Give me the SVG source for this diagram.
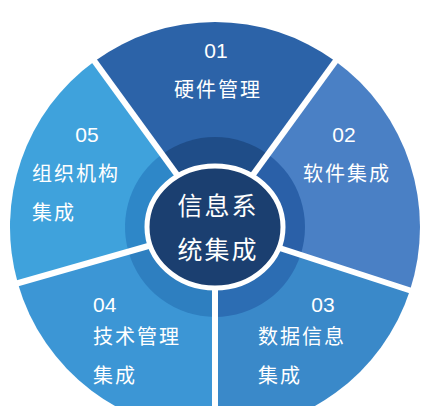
<svg xmlns="http://www.w3.org/2000/svg" width="429" height="406" viewBox="0 0 429 406">
<style>
.num{font-family:"Liberation Sans","Noto Sans CJK SC",sans-serif;font-size:21px;fill:#fff}
.lbl{font-family:"Noto Sans CJK SC","Liberation Sans",sans-serif;font-size:20px;fill:#fff;letter-spacing:2px}
.ctr{font-family:"Noto Sans CJK SC","Liberation Sans",sans-serif;font-size:25px;fill:#fff;letter-spacing:2px}
.sep{stroke:#fff;stroke-width:6;fill:none}
</style>
<rect width="429" height="406" fill="#fff"/>
<g id="node-01">
<path d="M215,227 L94.5,61.2 A205,205 0 0 1 335.5,61.2 Z" fill="#2c63a8"/>
<path d="M215,227 L162.1,154.2 A90,90 0 0 1 267.9,154.2 Z" fill="#1f4d88"/>
<text class="num" x="216" y="58" text-anchor="middle">01</text>
<text class="lbl" x="218" y="97" text-anchor="middle">硬件管理</text>
</g>
<g id="node-02">
<path d="M215,227 L335.5,61.2 A205,205 0 0 1 410,290.3 Z" fill="#4a80c5"/>
<path d="M215,227 L267.9,154.2 A90,90 0 0 1 300.6,254.8 Z" fill="#2a60a8"/>
<text class="num" x="344" y="142" text-anchor="middle">02</text>
<text class="lbl" x="303" y="181">软件集成</text>
</g>
<g id="node-03">
<path d="M215,227 L410,290.3 A205,205 0 0 1 215,432 Z" fill="#3a89c9"/>
<path d="M215,227 L300.6,254.8 A90,90 0 0 1 215,317 Z" fill="#2c6db3"/>
<text class="num" x="323" y="312" text-anchor="middle">03</text>
<text class="lbl" x="258" y="344">数据信息</text>
<text class="lbl" x="258" y="383">集成</text>
</g>
<g id="node-04">
<path d="M215,227 L215,432 A205,205 0 0 1 17.9,283.5 Z" fill="#3c96d5"/>
<path d="M215,227 L215,317 A90,90 0 0 1 128.5,251.8 Z" fill="#2e7fc0"/>
<text class="num" x="93" y="312">04</text>
<text class="lbl" x="93" y="344">技术管理</text>
<text class="lbl" x="93" y="383">集成</text>
</g>
<g id="node-05">
<path d="M215,227 L17.9,283.5 A205,205 0 0 1 94.5,61.2 Z" fill="#3fa2dc"/>
<path d="M215,227 L128.5,251.8 A90,90 0 0 1 162.1,154.2 Z" fill="#2e87c8"/>
<text class="num" x="87" y="142" text-anchor="middle">05</text>
<text class="lbl" x="32" y="181">组织机构</text>
<text class="lbl" x="32" y="220">集成</text>
</g>
<g id="connectors">
<line class="sep" x1="215" y1="227" x2="90" y2="55"/>
<line class="sep" x1="215" y1="227" x2="340" y2="55"/>
<line class="sep" x1="215" y1="227" x2="418" y2="293"/>
<line class="sep" x1="215" y1="227" x2="215" y2="410"/>
<line class="sep" x1="215" y1="227" x2="8" y2="286"/>
</g>
<g id="node-center">
<ellipse cx="215" cy="227" rx="68" ry="61" fill="#1b3f70" stroke="#fff" stroke-width="5"/>
<text class="ctr" x="218" y="215" text-anchor="middle">信息系</text>
<text class="ctr" x="218" y="259" text-anchor="middle">统集成</text>
</g>
</svg>
